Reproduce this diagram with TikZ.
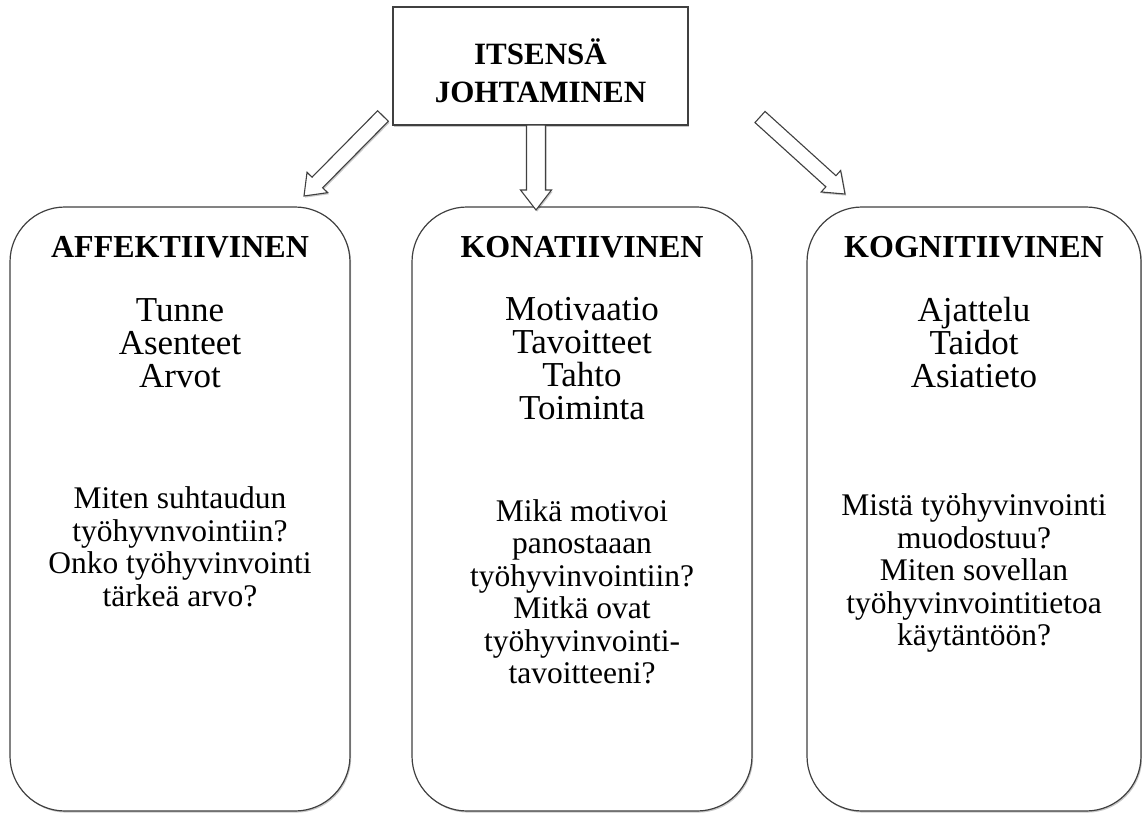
\documentclass[tikz,border=0pt]{standalone}
\usepackage{fontspec}
\setmainfont{Liberation Serif}
\usetikzlibrary{calc,shadows}

\tikzset{
  edge/.style={draw=black!75, line width=1.2pt},
  softshadow/.style={drop shadow={shadow xshift=1.2pt, shadow yshift=-1.6pt, opacity=0.22, fill=black}},
  headbox/.style={edge, fill=white, softshadow},
  areabox/.style={edge, fill=white, rounded corners=55pt, softshadow},
  boxtitle/.style={font=\fontsize{32}{33}\selectfont\bfseries, inner sep=0pt},
  itemtext/.style={font=\fontsize{35}{33}\selectfont, align=center, inner sep=0pt},
  asktext/.style={font=\fontsize{31.5}{32.5}\selectfont, align=center, inner sep=0pt},
  blockarrow/.style={edge, line width=1.1pt, fill=white, line join=miter, softshadow},
}

% hollow block arrow from #1 to #2; #3 shaft half-width, #4 head half-width, #5 head length
\newcommand{\hollowarrow}[5]{%
  \path[blockarrow]
    ($(#1)!#3!90:(#2)$) --
    ($($(#2)!#5!(#1)$)!#3!-90:(#1)$) --
    ($($(#2)!#5!(#1)$)!#4!-90:(#1)$) --
    (#2) --
    ($($(#2)!#5!(#1)$)!#4!90:(#1)$) --
    ($($(#2)!#5!(#1)$)!#3!90:(#1)$) --
    ($(#1)!#3!-90:(#2)$) -- cycle;}

\begin{document}
\begin{tikzpicture}[x=1pt, y=-1pt]
  \useasboundingbox (0,0) rectangle (1142,816);

  % head box
  \path[headbox] (393,7) rectangle (688,125);
  \node[font=\fontsize{31}{38}\selectfont\bfseries, align=center, inner sep=0pt]
    (head) at (540.5,71) {ITSENSÄ\\JOHTAMINEN};

  % three area boxes
  \path[areabox] (10,207) rectangle (350,811);
  \path[areabox] (412,207) rectangle (752,811);
  \path[areabox] (807,207) rectangle (1141,811);

  % affective
  \node[boxtitle] (afftitle) at (180,247) {AFFEKTIIVINEN};
  \node[itemtext] (affitems) at (180,343) {Tunne\\Asenteet\\Arvot};
  \node[asktext] (affask) at (180,547) {Miten suhtaudun\\työhyvnvointiin?\\Onko työhyvinvointi\\tärkeä arvo?};

  % conative
  \node[boxtitle] (kontitle) at (582,247) {KONATIIVINEN};
  \node[itemtext] (konitems) at (582,359) {Motivaatio\\Tavoitteet\\Tahto\\Toiminta};
  \node[asktext] (konask) at (582,592) {Mikä motivoi\\panostaaan\\työhyvinvointiin?\\Mitkä ovat\\työhyvinvointi-\\tavoitteeni?};

  % cognitive
  \node[boxtitle] (kogtitle) at (974,247) {KOGNITIIVINEN};
  \node[itemtext] (kogitems) at (974,343) {Ajattelu\\Taidot\\Asiatieto};
  \node[asktext] (kogask) at (974,573) {Mistä työhyvinvointi\\muodostuu?\\Miten sovellan\\työhyvinvointitietoa\\käytäntöön?};

  % arrow ends
  \coordinate (lt) at (383,116);
  \coordinate (lh) at (304,196);
  \coordinate (ct) at (536,125);
  \coordinate (ch) at (536,210);
  \coordinate (rt) at (760,117);
  \coordinate (rh) at (845,194);

  \hollowarrow{lt}{lh}{7.5pt}{14.5pt}{19pt}
  \hollowarrow{ct}{ch}{9.5pt}{15.5pt}{20pt}
  \hollowarrow{rt}{rh}{7.5pt}{14.5pt}{19pt}
\end{tikzpicture}
\end{document}
